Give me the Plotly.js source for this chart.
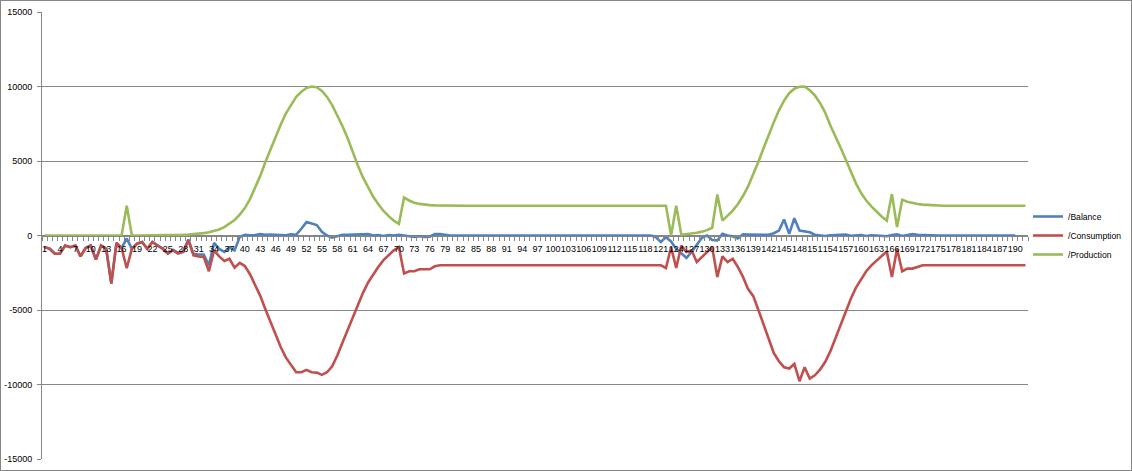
<!DOCTYPE html>
<html>
<head>
<meta charset="utf-8">
<script src="https://cdn.plot.ly/plotly-3.0.1.min.js"></script>
<style>
  body { margin: 0; background: #fff; }
  #chart { width: 1130px; height: 469px; border: 1px solid #868686; }
</style>
</head>
<body>
<div id="chart"></div>
<script>
// categories 1..192 (row numbers)
var categories = [
  1,2,3,4,5,6,7,8,9,10,11,12,13,14,15,16,17,18,19,20,21,22,23,24,25,26,27,28,29,30,31,32,
  33,34,35,36,37,38,39,40,41,42,43,44,45,46,47,48,49,50,51,52,53,54,55,56,57,58,59,60,61,62,63,64,
  65,66,67,68,69,70,71,72,73,74,75,76,77,78,79,80,81,82,83,84,85,86,87,88,89,90,91,92,93,94,95,96,
  97,98,99,100,101,102,103,104,105,106,107,108,109,110,111,112,113,114,115,116,117,118,119,120,121,122,123,124,125,126,127,128,
  129,130,131,132,133,134,135,136,137,138,139,140,141,142,143,144,145,146,147,148,149,150,151,152,153,154,155,156,157,158,159,160,
  161,162,163,164,165,166,167,168,169,170,171,172,173,174,175,176,177,178,179,180,181,182,183,184,185,186,187,188,189,190,191,192
];

var balance = [
  -780,-890,-1220,-1220,-670,-780,-670,-1400,-840,-670,-1620,-670,-890,-3220,-500,-840,
  -200,-890,-550,-440,-890,-435,-660,-875,-1195,-965,-1170,-1065,-265,-1240,-1280,-1280,
  -2000,-500,-900,-1100,-800,-1000,-100,50,20,30,100,50,60,40,50,20,80,50,450,900,800,700,250,0,-150,-50,50,50,50,60,50,100,
  0,30,-30,30,0,50,0,-50,-100,-50,-100,-80,100,100,50,0,0,0,0,0,0,0,0,0,0,0,0,0,0,0,
  0,0,0,0,0,0,0,0,0,0,0,0,0,0,0,0,0,0,0,0,0,0,0,0,0,-100,-440,-110,-400,-900,-1200,-1500,
  -1100,-600,-150,0,-300,-330,120,0,-50,-200,80,70,50,60,40,50,150,330,1070,110,1160,330,270,220,50,0,-30,20,30,20,60,-20,
  0,30,-30,20,0,0,-50,30,80,-30,20,100,50,30,0,0,0,0,0,0,0,0,0,0,0,0,0,0,0,0,0,0
];

var consumption = [
  -780,-890,-1220,-1220,-670,-780,-670,-1400,-840,-670,-1620,-670,-890,-3220,-500,-840,
  -2200,-890,-550,-440,-890,-440,-670,-890,-1220,-1000,-1220,-1110,-330,-1330,-1400,-1440,
  -2400,-1000,-1400,-1710,-1560,-2160,-1840,-2050,-2600,-3300,-4050,-4950,-5800,-6650,-7500,-8200,-8700,-9180,-9180,-9020,-9180,-9200,-9350,-9180,-8780,-8050,-7200,-6350,-5500,-4650,-3850,-3150,
  -2600,-2100,-1650,-1300,-1000,-780,-2550,-2400,-2400,-2270,-2270,-2270,-2070,-2000,-2000,-2000,-2000,-2000,-2000,-2000,-2000,-2000,-2000,-2000,-2000,-2000,-2000,-2000,-2000,-2000,-2000,-2000,
  -2000,-2000,-2000,-2000,-2000,-2000,-2000,-2000,-2000,-2000,-2000,-2000,-2000,-2000,-2000,-2000,-2000,-2000,-2000,-2000,-2000,-2000,-2000,-2000,-2000,-2180,-780,-2180,-670,-1110,-1000,-1780,
  -1440,-1110,-780,-2780,-1400,-1780,-1560,-2110,-2780,-3600,-4070,-5000,-6000,-7000,-7890,-8440,-8840,-8930,-8620,-9780,-8840,-9600,-9380,-9000,-8490,-7780,-6890,-6000,-5150,-4250,-3500,-2900,
  -2400,-2000,-1700,-1380,-1070,-2780,-890,-2400,-2220,-2220,-2110,-2000,-2000,-2000,-2000,-2000,-2000,-2000,-2000,-2000,-2000,-2000,-2000,-2000,-2000,-2000,-2000,-2000,-2000,-2000,-2000,-2000
];

var production = [
  0,0,0,0,0,0,0,0,0,0,0,0,0,0,0,0,
  2000,0,0,0,0,5,10,15,25,35,50,45,65,90,120,160,
  220,290,400,560,780,1040,1400,1840,2440,3180,4000,4930,5800,6650,7450,8200,8800,9300,9650,9900,10000,9950,9700,9300,8750,8100,7350,6550,5550,4700,3900,3200,
  2600,2100,1650,1300,1000,780,2550,2350,2200,2120,2070,2040,2020,2010,2000,2000,2000,2000,2000,2000,2000,2000,2000,2000,2000,2000,2000,2000,2000,2000,2000,2000,
  2000,2000,2000,2000,2000,2000,2000,2000,2000,2000,2000,2000,2000,2000,2000,2000,2000,2000,2000,2000,2000,2000,2000,2000,2000,2000,0,2000,50,80,120,180,
  260,360,520,2750,1000,1330,1670,2100,2650,3300,4100,4950,5850,6750,7600,8400,9050,9550,9850,9980,10000,9750,9400,8900,8250,7400,6700,5900,5100,4250,3500,2850,
  2350,1950,1600,1280,1000,2780,560,2400,2270,2180,2110,2070,2040,2020,2010,2000,2000,2000,2000,2000,2000,2000,2000,2000,2000,2000,2000,2000,2000,2000,2000,2000
];

var xTickVals = [1,4,7,10,13,16,19,22,25,28,31,34,37,40,43,46,49,52,55,58,61,64,67,70,73,76,79,82,85,88,91,94,
  97,100,103,106,109,112,115,118,121,124,127,130,133,136,139,142,145,148,151,154,157,160,163,166,169,172,175,178,181,184,187,190];
var xTickText = ['1','4','7','10','13','16','19','22','25','28','31','34','37','40','43','46','49','52','55','58','61','64','67','70','73','76','79','82','85','88','91','94',
  '97','100','103','106','109','112','115','118','121','124','127','130','133','136','139','142','145','148','151','154','157','160','163','166','169','172','175','178','181','184','187','190'];
var yTickVals = [15000, 10000, 5000, 0, -5000, -10000, -15000];
var yTickText = ['15000', '10000', '5000', '0', '-5000', '-10000', '-15000'];

var axisGray = '#868686';
var fontFamily = 'Liberation Sans, Arial, sans-serif';

var balance_trace = {
  name: '/Balance',
  x: categories,
  y: balance,
  type: 'scatter',
  mode: 'lines',
  line: {width: 2.6, color: '#4F81BD'}
};
var consumption_trace = {
  name: '/Consumption',
  x: categories,
  y: consumption,
  type: 'scatter',
  mode: 'lines',
  line: {width: 2.6, color: '#C0504D'}
};
var production_trace = {
  name: '/Production',
  x: categories,
  y: production,
  type: 'scatter',
  mode: 'lines',
  line: {width: 2.6, color: '#9BBB59'}
};

var layout = {
  width: 1130,
  height: 469,
  margin: {l: 41, r: 103, t: 11, b: 11, autoexpand: false},
  paper_bgcolor: '#fff',
  plot_bgcolor: '#fff',
  font: {family: fontFamily, size: 9, color: '#000'},
  showlegend: true,
  hovermode: false,
  xaxis: {
    range: [0.5, 192.5],
    anchor: 'free',
    position: 0.5,
    showline: true,
    linecolor: axisGray,
    linewidth: 1,
    showgrid: false,
    zeroline: false,
    tickmode: 'array',
    tickvals: xTickVals,
    ticktext: xTickText,
    tickangle: 0,
    ticks: '',
    ticklabelstandoff: 5,
    tickfont: {family: fontFamily, size: 9, color: '#000'},
    minor: {
      tickmode: 'linear',
      tick0: 0.5,
      dtick: 1,
      ticks: 'outside',
      ticklen: 4,
      tickcolor: axisGray,
      tickwidth: 1,
      showgrid: false
    }
  },
  yaxis: {
    range: [-15000, 15000],
    tickmode: 'array',
    tickvals: yTickVals,
    ticktext: yTickText,
    showline: true,
    linecolor: axisGray,
    linewidth: 1,
    showgrid: true,
    gridcolor: axisGray,
    gridwidth: 1,
    zeroline: false,
    ticks: 'outside',
    ticklen: 4,
    tickcolor: axisGray,
    ticklabelstandoff: 3,
    tickfont: {family: fontFamily, size: 9, color: '#000'}
  },
  legend: {
    x: 1.0,
    xanchor: 'left',
    y: 0.5,
    yanchor: 'middle',
    bgcolor: 'rgba(0,0,0,0)',
    borderwidth: 0,
    itemwidth: 30,
    font: {family: fontFamily, size: 8.6, color: '#000'}
  }
};

Plotly.newPlot('chart', [balance_trace, consumption_trace, production_trace], layout,
  {displayModeBar: false, staticPlot: true});
</script>
</body>
</html>
